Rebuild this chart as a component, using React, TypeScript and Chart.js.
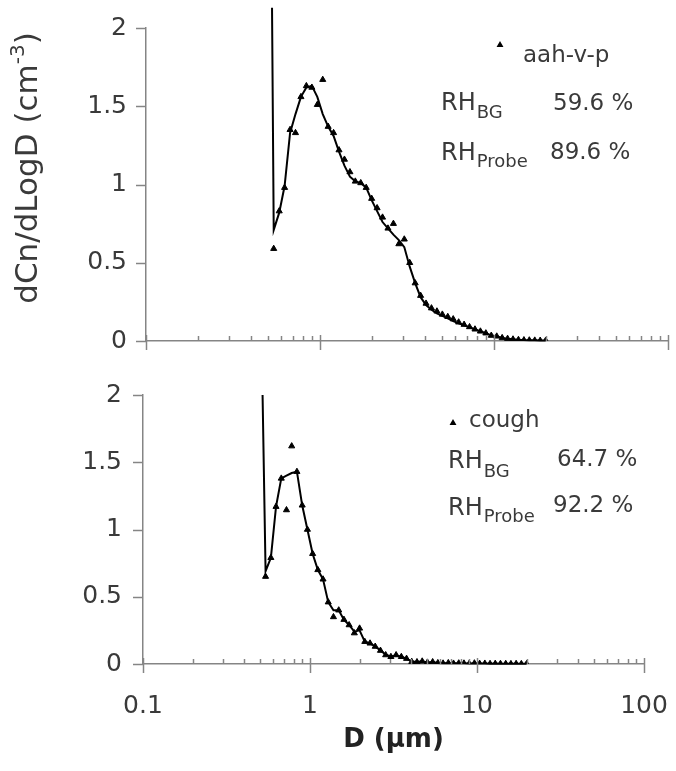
import React, { useEffect, useRef } from 'react';
import { Chart, registerables } from 'chart.js';

Chart.register(...registerables);

// APS size bins (µm)
const binsUm = [
  0.542, 0.583, 0.626, 0.673, 0.723, 0.777, 0.835, 0.898, 0.965, 1.037,
  1.114, 1.197, 1.286, 1.382, 1.486, 1.596, 1.715, 1.843, 1.981, 2.129,
  2.288, 2.458, 2.642, 2.839, 3.051, 3.278, 3.523, 3.786, 4.068, 4.371,
  4.698, 5.048, 5.425, 5.829, 6.264, 6.732, 7.234, 7.774, 8.354, 8.977,
  9.647, 10.37, 11.14, 11.97, 12.86, 13.82, 14.86, 15.96, 17.15, 18.43, 19.81,
];

// aah-v-p : measured points (triangles)
const aahMarkers = [
  0.59, 0.83, 0.98, 1.35, 1.33, 1.56, 1.63, 1.62, 1.51, 1.67,
  1.37, 1.33, 1.22, 1.16, 1.08, 1.02, 1.01, 0.98, 0.91, 0.85,
  0.79, 0.72, 0.75, 0.62, 0.65, 0.5, 0.37, 0.29, 0.24, 0.21,
  0.19, 0.17, 0.155, 0.14, 0.12, 0.105, 0.09, 0.075, 0.062, 0.05,
  0.035, 0.03, 0.02, 0.015, 0.011, 0.008, 0.006, 0.005, 0.004, 0.003, 0.003,
];
// aah-v-p : smoothed curve
const aahFitStartD = 0.53;
const aahFitStartValue = 2.13;
const aahFit = [
  0.71, 0.82, 0.99, 1.33, 1.45, 1.56, 1.62, 1.63, 1.56, 1.45,
  1.37, 1.31, 1.21, 1.12, 1.05, 1.02, 1.01, 0.98, 0.9, 0.83,
  0.76, 0.72, 0.68, 0.645, 0.6, 0.475, 0.37, 0.28, 0.23, 0.2,
  0.177, 0.16, 0.145, 0.128, 0.113, 0.1, 0.088, 0.074, 0.062, 0.05,
  0.036, 0.03, 0.02, 0.015, 0.011, 0.008, 0.006, 0.005, 0.004, 0.003, 0.003,
];

// cough : measured points (triangles)
const coughMarkers = [
  0.65, 0.79, 1.17, 1.38, 1.145, 1.62, 1.43, 1.18, 1.0, 0.82,
  0.7, 0.63, 0.46, 0.35, 0.4, 0.33, 0.29, 0.23, 0.265, 0.166,
  0.154, 0.13, 0.1, 0.067, 0.054, 0.067, 0.054, 0.04, 0.017, 0.015,
  0.02, 0.012, 0.015, 0.008, 0.005, 0.008, 0.004, 0.006, 0.005, 0.003,
  0.006, 0.003, 0.004, 0.002, 0.003, 0.002, 0.002, 0.001, 0.002, 0.001, 0.001,
];
// cough : smoothed curve
const coughFitStartD = 0.52;
const coughFitStartValue = 2.0;
const coughFit = [
  0.69, 0.79, 1.17, 1.38, 1.4, 1.42, 1.43, 1.18, 1.0, 0.82,
  0.7, 0.63, 0.46, 0.4, 0.4, 0.33, 0.29, 0.24, 0.25, 0.166,
  0.154, 0.13, 0.1, 0.07, 0.056, 0.065, 0.054, 0.04, 0.018, 0.015,
  0.02, 0.012, 0.014, 0.008, 0.006, 0.008, 0.005, 0.006, 0.005, 0.003,
  0.005, 0.003, 0.004, 0.002, 0.003, 0.002, 0.002, 0.001, 0.002, 0.001, 0.001,
];

const yTickStep = 0.5;
const xTickLabels = [0.1, 1, 10, 100];

const FONT = '"DejaVu Sans", sans-serif';
const TEXT = '#3a3a3a';
const AXIS = '#858585';
const W = 676;

type Row = { sub: string; value: string; y: number; subY: number; valueX: number; valueY: number };
type Panel = {
  height: number; top: number;
  areaLeft: number; areaRight: number; areaTop: number; areaBottom: number;
  showXLabels: boolean;
  name: string; markers: number[]; fit: number[]; fitStartD: number; fitStartValue: number;
  legendMarker: [number, number]; legendText: [number, number];
  rhX: number; rows: Row[]; yTitle: boolean; yLabelGap: number;
};

const TOP: Panel = {
  height: 380, top: 0,
  areaLeft: 146, areaRight: 668, areaTop: 28, areaBottom: 341,
  showXLabels: false,
  name: 'aah-v-p', markers: aahMarkers, fit: aahFit, fitStartD: aahFitStartD, fitStartValue: aahFitStartValue,
  legendMarker: [500, 45], legendText: [523, 62],
  rhX: 441,
  rows: [
    { sub: 'BG', value: '59.6 %', y: 110, subY: 118, valueX: 553, valueY: 110 },
    { sub: 'Probe', value: '89.6 %', y: 160, subY: 167, valueX: 550, valueY: 159 },
  ],
  yTitle: true,
  yLabelGap: 19,
};

const BOTTOM: Panel = {
  height: 391, top: 380,
  areaLeft: 143, areaRight: 644, areaTop: 15, areaBottom: 284,
  showXLabels: true,
  name: 'cough', markers: coughMarkers, fit: coughFit, fitStartD: coughFitStartD, fitStartValue: coughFitStartValue,
  legendMarker: [453, 43], legendText: [469, 47],
  rhX: 448,
  rows: [
    { sub: 'BG', value: '64.7 %', y: 88, subY: 97, valueX: 557, valueY: 86 },
    { sub: 'Probe', value: '92.2 %', y: 135, subY: 142, valueX: 553, valueY: 132 },
  ],
  yTitle: false,
  yLabelGap: 21,
};

// axis tick marks: minor ticks point up, decade ticks cross the x axis; y ticks point left
const axisTicksPlugin = {
  id: 'axisTicks',
  afterDraw(chart: any) {
    const sx = chart.scales.x;
    const sy = chart.scales.y;
    const { bottom, left } = chart.chartArea;
    const ctx = chart.ctx;
    ctx.save();
    ctx.strokeStyle = AXIS;
    ctx.lineWidth = 1.5;
    for (let e = -1; e <= 2; e++) {
      for (let m = 1; m <= 9; m++) {
        const v = m * Math.pow(10, e);
        if (v > 100.0001) break;
        const px = Math.round(sx.getPixelForValue(v)) + 0.5;
        const major = m === 1;
        ctx.beginPath();
        ctx.moveTo(px, bottom - (major ? 6 : 5));
        ctx.lineTo(px, bottom + (major ? 9 : 0));
        ctx.stroke();
      }
    }
    for (const t of sy.ticks) {
      const py = Math.round(sy.getPixelForValue(t.value)) + 0.5;
      ctx.beginPath();
      ctx.moveTo(left - 10, py);
      ctx.lineTo(left, py);
      ctx.stroke();
    }
    ctx.restore();
  },
};

function drawTriangle(ctx: CanvasRenderingContext2D, x: number, y: number, r: number) {
  ctx.beginPath();
  ctx.moveTo(x, y - r);
  ctx.lineTo(x + r * 0.866, y + r * 0.5);
  ctx.lineTo(x - r * 0.866, y + r * 0.5);
  ctx.closePath();
  ctx.fill();
}

function makeAnnotationPlugin(p: Panel) {
  return {
    id: 'annot',
    afterDraw(chart: any) {
      const ctx: CanvasRenderingContext2D = chart.ctx;
      ctx.save();
      ctx.fillStyle = '#000';
      drawTriangle(ctx, p.legendMarker[0], p.legendMarker[1], 4);
      ctx.fillStyle = TEXT;
      ctx.textBaseline = 'alphabetic';
      ctx.textAlign = 'left';
      ctx.font = `23px ${FONT}`;
      ctx.fillText(p.name, p.legendText[0], p.legendText[1]);
      for (const r of p.rows) {
        ctx.font = `24px ${FONT}`;
        ctx.fillText('RH', p.rhX, r.y);
        const w = ctx.measureText('RH').width;
        ctx.font = `18px ${FONT}`;
        ctx.fillText(r.sub, p.rhX + w + 1, r.subY);
        ctx.font = `23px ${FONT}`;
        ctx.fillText(r.value, r.valueX, r.valueY);
      }
      if (p.yTitle) {
        ctx.translate(37, 168);
        ctx.rotate(-Math.PI / 2);
        const main = 'dCn/dLogD (cm';
        const sup = '-3';
        const close = ')';
        ctx.font = `31px ${FONT}`;
        const w1 = ctx.measureText(main).width;
        const w3 = ctx.measureText(close).width;
        ctx.font = `20px ${FONT}`;
        const w2 = ctx.measureText(sup).width;
        const start = -(w1 + w2 + w3) / 2;
        ctx.font = `31px ${FONT}`;
        ctx.fillText(main, start, 0);
        ctx.font = `20px ${FONT}`;
        ctx.fillText(sup, start + w1, -13);
        ctx.font = `31px ${FONT}`;
        ctx.fillText(close, start + w1 + w2, 0);
      }
      ctx.restore();
    },
  };
}

function buildConfig(p: Panel): any {
  const lineData = [
    { x: p.fitStartD, y: p.fitStartValue },
    ...binsUm.map((d, i) => ({ x: d, y: p.fit[i] })),
  ];
  const markerData = binsUm.map((d, i) => ({ x: d, y: p.markers[i] }));
  return {
    type: 'scatter',
    data: {
      datasets: [
        {
          label: p.name + ' fit',
          data: lineData,
          showLine: true,
          borderColor: '#000',
          borderWidth: 2,
          pointRadius: 0,
          tension: 0,
          clip: false,
          order: 2,
        },
        {
          label: p.name,
          data: markerData,
          showLine: false,
          pointStyle: 'triangle',
          pointRadius: 3.5,
          backgroundColor: '#000',
          borderColor: '#000',
          borderWidth: 1,
          order: 1,
        },
      ],
    },
    options: {
      animation: false,
      responsive: false,
      devicePixelRatio: 1,
      layout: { padding: { left: 0, right: W - p.areaRight, top: p.areaTop, bottom: 0 } },
      plugins: { legend: { display: false }, tooltip: { enabled: false } },
      scales: {
        x: {
          type: 'logarithmic',
          position: 'bottom',
          min: 0.1,
          max: 100,
          border: { display: true, color: AXIS, width: 1.5 },
          grid: { display: false, drawTicks: true, tickLength: 27 },
          ticks: {
            display: p.showXLabels,
            autoSkip: false,
            maxRotation: 0,
            padding: 0,
            color: TEXT,
            font: { family: FONT, size: 25 },
            callback: (v: number) => (xTickLabels.some((t) => Math.abs(t - v) < 1e-9) ? String(v) : ''),
          },
          title: {
            display: p.showXLabels,
            text: 'D (µm)',
            color: '#222',
            font: { family: FONT, size: 26, weight: 'bold' },
            padding: { top: 0, bottom: 15 },
          },
          afterFit: (s: any) => { s.height = p.height - p.areaBottom; },
        },
        y: {
          min: 0,
          max: 2,
          border: { display: true, color: AXIS, width: 1.5 },
          grid: { display: false, drawTicks: true, tickLength: p.yLabelGap },
          ticks: {
            stepSize: yTickStep,
            padding: 0,
            color: TEXT,
            font: { family: FONT, size: 25 },
            callback: (v: number) => String(v),
          },
          afterFit: (s: any) => { s.width = p.areaLeft; },
        },
      },
    },
    plugins: [axisTicksPlugin, makeAnnotationPlugin(p)],
  };
}

export default function App() {
  const topRef = useRef<HTMLCanvasElement>(null);
  const botRef = useRef<HTMLCanvasElement>(null);
  useEffect(() => {
    const c1 = new Chart(topRef.current as HTMLCanvasElement, buildConfig(TOP));
    const c2 = new Chart(botRef.current as HTMLCanvasElement, buildConfig(BOTTOM));
    return () => {
      c1.destroy();
      c2.destroy();
    };
  }, []);
  return (
    <div style={{ position: 'absolute', left: 0, top: 0, width: W, height: 771, background: '#fff' }}>
      <canvas ref={topRef} width={W} height={TOP.height} style={{ position: 'absolute', left: 0, top: TOP.top }} />
      <canvas ref={botRef} width={W} height={BOTTOM.height} style={{ position: 'absolute', left: 0, top: BOTTOM.top }} />
    </div>
  );
}
